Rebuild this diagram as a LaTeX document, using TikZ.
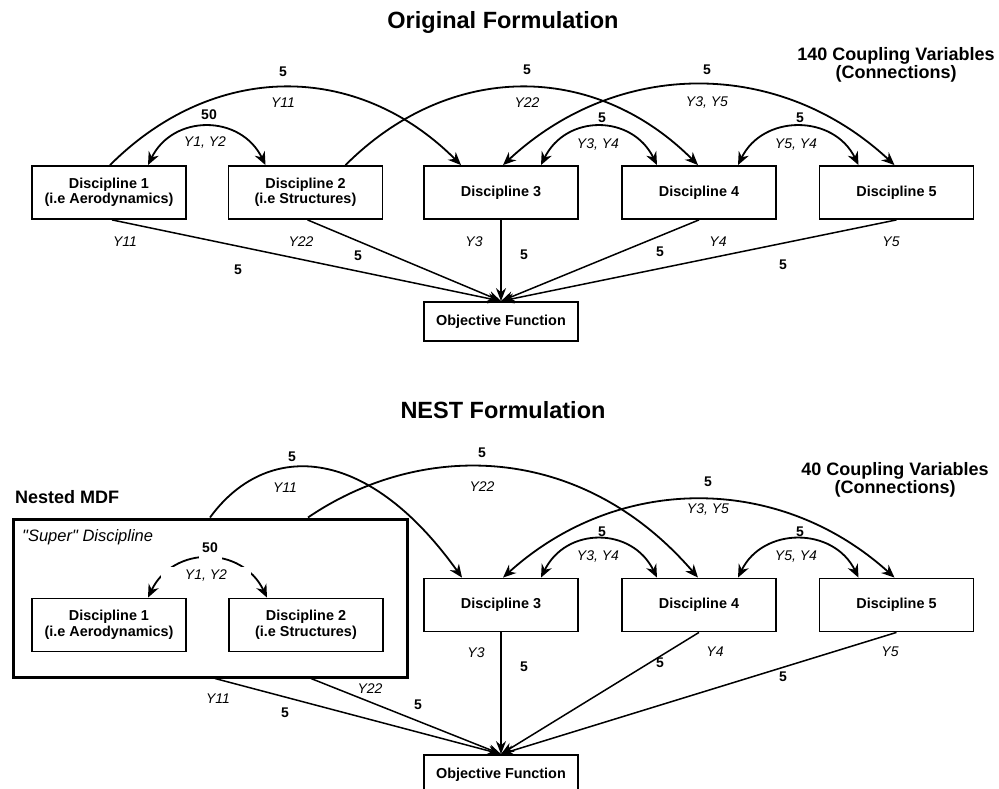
\documentclass[tikz,border=0pt]{standalone}
\usepackage{fontspec}
\setmainfont{Liberation Sans}[Ligatures=TeXOff]
\usetikzlibrary{arrows.meta}
\begin{document}
\begin{tikzpicture}[x=1pt,y=-1pt,
  dbox/.style={draw, line width=1.8pt, minimum width=154pt, minimum height=53pt, inner sep=0pt, align=center, font=\fontsize{14.4}{15.5}\selectfont\bfseries},
  objbox/.style={dbox, minimum height=39pt},
  supbox/.style={draw, line width=3pt, minimum width=394pt, minimum height=158pt, inner sep=0pt},
  num/.style={font=\fontsize{14}{16}\selectfont\bfseries, inner sep=0pt},
  var/.style={font=\fontsize{14}{16}\selectfont\itshape, inner sep=0pt},
  ttl/.style={font=\fontsize{23.5}{26}\selectfont\bfseries, inner sep=0pt},
  cpl/.style={font=\fontsize{18}{16.5}\selectfont\bfseries, align=center, inner sep=0pt},
  conn/.style={line width=1.8pt, -{Stealth[length=13pt,width=11pt]}},
  dconn/.style={line width=1.8pt, {Stealth[length=13pt,width=11pt]}-{Stealth[length=13pt,width=11pt]}},
  feed/.style={line width=1.5pt, -{Stealth[length=13pt,width=10pt]}}
]
\useasboundingbox (0,0) rectangle (999,789);
\clip (0,0) rectangle (999,789);

% ---------------- Original formulation ----------------
\node[ttl] (t1) at (503,22) {Original Formulation};
\node[cpl] (c1) at (896,65) {140 Coupling Variables\\(Connections)};

\node[dbox] (d1) at (109,192.5) {Discipline 1\\(i.e Aerodynamics)};
\node[dbox] (d2) at (305.5,192.5) {Discipline 2\\(i.e Structures)};
\node[dbox] (d3) at (501,192.5) {Discipline 3};
\node[dbox] (d4) at (699,192.5) {Discipline 4};
\node[dbox] (d5) at (896.5,192.5) {Discipline 5};
\node[objbox] (obj) at (501,321.5) {Objective Function};

\draw[conn] ([xshift=1pt]d1.north) .. controls +(104,-104) and +(-104,-104) .. ([xshift=-40pt]d3.north);
\draw[dconn] ([xshift=39pt]d1.north) .. controls +(25,-51) and +(-25,-51) .. ([xshift=-40pt]d2.north);
\draw[conn] ([xshift=40pt]d2.north) .. controls +(104,-104) and +(-104,-104) .. ([xshift=-1pt]d4.north);
\draw[dconn] ([xshift=2pt]d3.north) .. controls +(115,-107) and +(-115,-107) .. ([xshift=-2pt]d5.north);
\draw[dconn] ([xshift=40pt]d3.north) .. controls +(25,-51) and +(-25,-51) .. ([xshift=-42pt]d4.north);
\draw[dconn] ([xshift=39pt]d4.north) .. controls +(25,-51) and +(-25,-51) .. ([xshift=-38pt]d5.north);

\node[num] (n1) at (283,72) {5};
\node[var] (v1) at (283,103) {Y11};
\node[num] (n2) at (209,115) {50};
\node[var] (v2) at (205,143) {Y1, Y2};
\node[num] (n3) at (527,70) {5};
\node[var] (v3) at (527,103) {Y22};
\node[num] (n4) at (707,70) {5};
\node[var] (v4) at (707,103) {Y3, Y5};
\node[num] (n5) at (602,118) {5};
\node[var] (v5) at (598,145) {Y3, Y4};
\node[num] (n6) at (800,118) {5};
\node[var] (v6) at (796,145) {Y5, Y4};

\draw[feed] ([xshift=3pt]d1.south) -- (obj.north);
\draw[feed] ([xshift=2pt]d2.south) -- (obj.north);
\draw[feed] (d3.south) -- (obj.north);
\draw[feed] (d4.south) -- (obj.north);
\draw[feed] (d5.south) -- (obj.north);

\node[var] (o1) at (125,242) {Y11};
\node[num] (o2) at (238,270) {5};
\node[var] (o3) at (301,242) {Y22};
\node[num] (o4) at (358,256) {5};
\node[var] (o5) at (474,242) {Y3};
\node[num] (o6) at (524,255) {5};
\node[num] (o7) at (660,252) {5};
\node[var] (o8) at (718,242) {Y4};
\node[var] (o9) at (891,242) {Y5};
\node[num] (o10) at (783,265) {5};

% ---------------- NEST formulation ----------------
\node[ttl] (t2) at (503,410) {NEST Formulation};
\node[cpl] (c2) at (895,479.5) {40 Coupling Variables\\(Connections)};
\node[font=\fontsize{18}{20}\selectfont\bfseries, anchor=west, inner sep=0pt] (nm) at (15,497) {Nested MDF};

\node[supbox] (sup) at (210,598) {};
\node[font=\fontsize{16.5}{18}\selectfont\itshape, anchor=west, inner sep=0pt] (sd) at (22,537) {"Super" Discipline};

\node[dbox] (d1b) at (109,625) {Discipline 1\\(i.e Aerodynamics)};
\node[dbox] (d2b) at (306,625) {Discipline 2\\(i.e Structures)};
\node[dbox] (d3b) at (501,605) {Discipline 3};
\node[dbox] (d4b) at (699,605) {Discipline 4};
\node[dbox] (d5b) at (896.5,605) {Discipline 5};
\node[objbox] (objb) at (501,774.5) {Objective Function};

\draw[dconn] ([xshift=39pt]d1b.north) .. controls +(25,-52) and +(-25,-52) .. ([xshift=-39pt]d2b.north);
\node[var, fill=white, minimum width=90pt, minimum height=19pt] (w2) at (206,576) {Y1, Y2};
\node[num, fill=white, minimum width=23pt, minimum height=26pt] (w1) at (210,548) {50};

\draw[conn] (sup.north) .. controls (265,442) and (365,442) .. ([xshift=-39pt]d3b.north);
\draw[conn] ([xshift=98pt]sup.north) .. controls (420,441) and (580,441) .. ([xshift=-1pt]d4b.north);
\draw[dconn] ([xshift=2pt]d3b.north) .. controls +(115,-104) and +(-115,-104) .. ([xshift=-2pt]d5b.north);
\draw[dconn] ([xshift=40pt]d3b.north) .. controls +(25,-51) and +(-25,-51) .. ([xshift=-42pt]d4b.north);
\draw[dconn] ([xshift=39pt]d4b.north) .. controls +(25,-51) and +(-25,-51) .. ([xshift=-38pt]d5b.north);

\node[num] (m1) at (292,457) {5};
\node[var] (u1) at (285,488) {Y11};
\node[num] (m2) at (482,453) {5};
\node[var] (u2) at (482,487) {Y22};
\node[num] (m3) at (708,482) {5};
\node[var] (u3) at (708,510) {Y3, Y5};
\node[num] (m4) at (602,532) {5};
\node[var] (u4) at (598,557) {Y3, Y4};
\node[num] (m5) at (800,532) {5};
\node[var] (u5) at (796,557) {Y5, Y4};

\draw[feed] ([xshift=5pt]sup.south) -- (objb.north);
\draw[feed] ([xshift=101pt]sup.south) -- (objb.north);
\draw[feed] (d3b.south) -- (objb.north);
\draw[feed] (d4b.south) -- (objb.north);
\draw[feed] (d5b.south) -- (objb.north);

\node[var] (p1) at (218,699) {Y11};
\node[num] (p2) at (285,713) {5};
\node[var] (p3) at (370,689) {Y22};
\node[num] (p4) at (418,705) {5};
\node[var] (p5) at (476,653) {Y3};
\node[num] (p6) at (524,667) {5};
\node[num] (p7) at (660,663) {5};
\node[var] (p8) at (715,652) {Y4};
\node[var] (p9) at (890,652) {Y5};
\node[num] (p10) at (783,677) {5};
\end{tikzpicture}
\end{document}
